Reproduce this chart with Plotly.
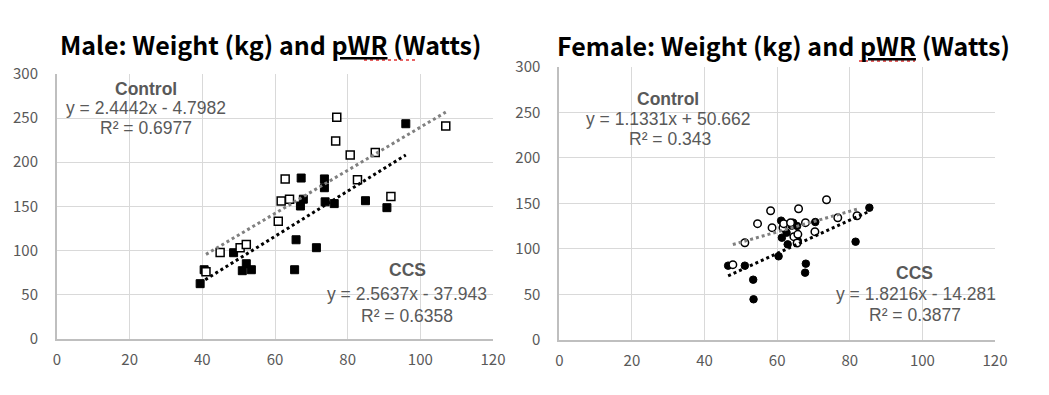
import plotly.graph_objects as go

# ---------------- data ----------------
male_ctrl_x = [41.0, 44.9, 50.4, 52.1, 60.9, 61.7, 62.8, 64.0, 76.7, 77.0, 80.7, 82.7, 87.6, 91.9, 107.0]
male_ctrl_y = [75.8, 97.6, 103, 106.6, 133, 156, 181, 158, 224, 251, 208, 180, 211, 161, 241]

male_ccs_x = [39.4, 40.5, 48.6, 51.0, 52.1, 53.5, 65.4, 65.8, 67.0, 67.2, 67.8, 71.4, 73.6, 73.6, 73.8, 76.3, 84.9, 90.8, 96.0]
male_ccs_y = [62.2, 78, 97.3, 76.9, 84.8, 78, 78, 112, 150.3, 182, 158, 103, 181, 171, 155, 153, 156.3, 148.4, 243.6]

fem_ctrl_x = [47.8, 51.1, 54.6, 58.2, 58.6, 61.6, 61.8, 63.7, 64.6, 65.7, 65.5, 65.9, 67.8, 70.4, 73.6, 76.7, 82.0]
fem_ctrl_y = [82.7, 106.8, 127.7, 141.9, 123.3, 123.3, 127.7, 128.8, 113.4, 116, 106.5, 144.1, 128.8, 118.9, 154, 134.2, 136.4]

fem_ccs_x = [46.5, 51.1, 53.4, 53.5, 60.4, 61.1, 61.3, 62.6, 62.9, 64.4, 64.0, 65.5, 65.7, 67.9, 67.7, 70.5, 81.6, 85.4]
fem_ccs_y = [81.6, 81.6, 66.2, 44.7, 91.9, 131, 112.3, 117.8, 105, 128.8, 125.5, 125.1, 108.7, 83.8, 73.9, 129.5, 107.9, 145.2]

# trendline coefficients (slope, intercept, R^2) as printed on the chart
male_ctrl_fit = (2.4442, -4.7982, 0.6977)
male_ccs_fit = (2.5637, -37.943, 0.6358)
fem_ctrl_fit = (1.1331, 50.662, 0.343)
fem_ccs_fit = (1.8216, -14.281, 0.3877)

x_ticks = [0, 20, 40, 60, 80, 100, 120]
y_ticks = [0, 50, 100, 150, 200, 250, 300]

titles = ["Male: Weight (kg) and <u>pWR</u> (Watts)", "Female: Weight (kg) and <u>pWR</u> (Watts)"]

W, H = 1049, 395
GRAY_TXT = "#595959"


def px(x):
    return x / W


def py(y):
    return 1 - y / H


def eq_text(fit):
    a, b, _ = fit
    sign = "-" if b < 0 else "+"
    return f"y = {a:g}x {sign} {abs(b):g}"


def r2_text(fit):
    return f"R² = {fit[2]:g}"


fig = go.Figure()


def add_panel(xs_ctrl, ys_ctrl, xs_ccs, ys_ccs, fit_ctrl, fit_ccs, axn, symbol, msize):
    xa = "x" if axn == 1 else f"x{axn}"
    ya = "y" if axn == 1 else f"y{axn}"
    fig.add_trace(go.Scatter(x=xs_ccs, y=ys_ccs, mode="markers", xaxis=xa, yaxis=ya,
                             marker=dict(symbol=symbol, size=msize, color="black",
                                         line=dict(color="black", width=1))))
    fig.add_trace(go.Scatter(x=xs_ctrl, y=ys_ctrl, mode="markers", xaxis=xa, yaxis=ya,
                             marker=dict(symbol=symbol, size=msize, color="white",
                                         line=dict(color="black", width=1.5))))
    for xs, fit, col in [(xs_ctrl, fit_ctrl, "#808080"), (xs_ccs, fit_ccs, "black")]:
        x0, x1 = min(xs), max(xs)
        a, b, _ = fit
        fig.add_trace(go.Scatter(x=[x0, x1], y=[a * x0 + b, a * x1 + b], mode="lines",
                                 xaxis=xa, yaxis=ya,
                                 line=dict(color=col, width=3, dash="dot")))


add_panel(male_ctrl_x, male_ctrl_y, male_ccs_x, male_ccs_y, male_ctrl_fit, male_ccs_fit, 1, "square", 8)
add_panel(fem_ctrl_x, fem_ctrl_y, fem_ccs_x, fem_ccs_y, fem_ctrl_fit, fem_ccs_fit, 2, "circle", 7.5)

axis_common = dict(showgrid=True, gridcolor="#d9d9d9", gridwidth=1, zeroline=False, automargin=False,
                   tickfont=dict(family="Noto Sans CJK JP, Liberation Sans, sans-serif", size=15, color=GRAY_TXT),
                   showline=True, linecolor="#bfbfbf", linewidth=2, ticks="")

fig.update_layout(
    width=W, height=H, margin=dict(l=0, r=0, t=0, b=0, pad=0, autoexpand=False),
    paper_bgcolor="white", plot_bgcolor="white", showlegend=False,
    xaxis=dict(domain=[px(57), px(493)], range=[0, 120], tickvals=x_ticks, anchor="y",
               ticklabelstandoff=6, **axis_common),
    yaxis=dict(domain=[py(338.5), py(74)], range=[0, 300], tickvals=y_ticks, anchor="x",
               ticklabelstandoff=14, **axis_common),
    xaxis2=dict(domain=[px(559.3), px(995)], range=[0, 120], tickvals=x_ticks, anchor="y2",
                ticklabelstandoff=6, **axis_common),
    yaxis2=dict(domain=[py(340), py(66.7)], range=[0, 300], tickvals=y_ticks, anchor="x2",
                ticklabelstandoff=14, **axis_common),
)

ann_font = dict(family="Liberation Sans, Arial, sans-serif", size=17.5, color=GRAY_TXT)
title_font = dict(family="Noto Sans CJK JP, sans-serif", size=25, color="black")

annots = []
annots.append(dict(text=f"<b>{titles[0]}</b>", x=px(270), y=py(44), font=title_font))
annots.append(dict(text=f"<b>{titles[1]}</b>", x=px(783), y=py(45), font=title_font))

labels = [
    ("<b>Control</b>", 146, 89), (eq_text(male_ctrl_fit), 146, 108), (r2_text(male_ctrl_fit), 146, 128),
    ("<b>CCS</b>", 407, 270), (eq_text(male_ccs_fit), 407, 294), (r2_text(male_ccs_fit), 407, 316),
    ("<b>Control</b>", 668, 99), (eq_text(fem_ctrl_fit), 668, 119), (r2_text(fem_ctrl_fit), 670, 139),
    ("<b>CCS</b>", 914, 273), (eq_text(fem_ccs_fit), 916, 294), (r2_text(fem_ccs_fit), 915, 315),
]
for t, x, y in labels:
    annots.append(dict(text=t, x=px(x), y=py(y), font=ann_font))

for a in annots:
    a.update(xref="paper", yref="paper", showarrow=False, xanchor="center", yanchor="middle")
fig.update_layout(annotations=annots)

# red spell-check squiggles under "pWR"
for x0, x1, y in [(364, 416, 60), (859, 915, 61)]:
    fig.add_shape(type="line", xref="paper", yref="paper", x0=px(x0), x1=px(x1), y0=py(y), y1=py(y),
                  line=dict(color="#e03030", width=1.5, dash="dot"))

fig.write_html("out.html", config={"displayModeBar": False},
               post_script="document.body.style.margin='0';document.body.style.overflow='hidden';")
